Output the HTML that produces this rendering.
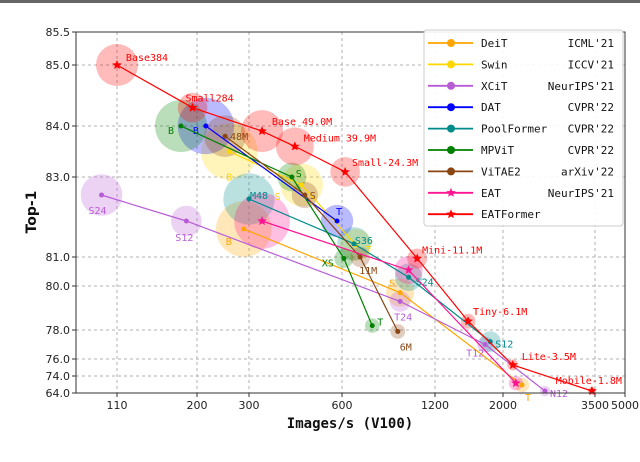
<!DOCTYPE html>
<html><head><meta charset="utf-8"><style>
body{margin:0;background:#fff;}
svg{display:block;font-family:"DejaVu Sans","Liberation Sans",sans-serif;}
.mono{font-family:"DejaVu Sans Mono","Liberation Mono",monospace;}
</style></head><body>
<svg id="chart" width="640" height="462" viewBox="0 0 640 462">
<rect x="0" y="0" width="640" height="3" fill="#666"/>
</svg>
<script>
// Axis tick arrays (non-uniform axes)
const xTickVals=[110,200,300,600,1200,2000,3500,5000];
const yTickVals=[85.5,85.0,84.0,83.0,81.0,80.0,78.0,76.0,74.0,64.0];
const xTickLabels=["110","200","300","600","1200","2000","3500","5000"];
const yTickLabels=["85.5","85.0","84.0","83.0","81.0","80.0","78.0","76.0","74.0","64.0"];
// Series data
const seriesNames=["DeiT","Swin","XCiT","DAT","PoolFormer","MPViT","ViTAE2","EAT","EATFormer"];
const seriesVenues=["ICML'21","ICCV'21","NeurIPS'21","CVPR'22","CVPR'22","CVPR'22","arXiv'22","NeurIPS'21",""];
const seriesColors=["#ffa500","#ffd700","#b85cd6","#0000ff","#008b8b","#008000","#8b4513","#ff1493","#ff0000"];
const deitX=[290,975,2310], deitY=[81.7,79.7,68.7], deitP=[86,22,5.7], deitL=["B","S","T"];
const swinX=[262,470,690], swinY=[83.5,82.8,81.3], swinP=[88,50,28], swinL=["B","S","T"];
const xcitX=[98,188,975,1790,2685], xcitY=[82.55,81.9,79.3,77.0,65.2], xcitP=[48,26,12,7,3], xcitL=["S24","S12","T24","T12","N12"];
const datX=[217,584], datY=[84.0,81.9], datP=[88,29], datL=["B","T"];
const poolX=[300,677,1030,1850], poolY=[82.45,81.33,80.3,77.2], poolP=[73,31,21,12], poolL=["M48","S36","S24","S12"];
const mpvitX=[182,438,612,795], mpvitY=[84.0,83.0,80.95,78.2], mpvitP=[75,23,10,5.8], mpvitL=["B","S","XS","T"];
const vitaeX=[254,480,717,960], vitaeY=[83.8,82.55,81.0,77.9], vitaeP=[48,19,11,6], vitaeL=["48M","S","11M","6M"];
const eatX=[342,1030,2210], eatY=[81.9,80.55,69.8], eatP=[86,22,5.7], eatL=["","",""];
const eatfX=[110,195,342,448,620,1085,1590,2160,3450], eatfY=[85.0,84.3,83.9,83.6,83.1,80.95,78.4,75.3,65.2], eatfP=[49,24.3,49,39.9,24.3,11.1,6.1,3.5,1.8];
const eatfL=["Base384","Small284","Base 49.0M","Medium 39.9M","Small-24.3M","Mini-11.1M","Tiny-6.1M","Lite-3.5M","Mobile-1.8M"];
const allX=[deitX,swinX,xcitX,datX,poolX,mpvitX,vitaeX,eatX,eatfX];
const allY=[deitY,swinY,xcitY,datY,poolY,mpvitY,vitaeY,eatY,eatfY];
const allP=[deitP,swinP,xcitP,datP,poolP,mpvitP,vitaeP,eatP,eatfP];
const allL=[deitL,swinL,xcitL,datL,poolL,mpvitL,vitaeL,eatL,eatfL];
// label offsets (style only)
const labOff=[
 [[-15,12],[-8,-10],[6,12]],
 [[0,25],[-24,11],[12,4]],
 [[-4,15],[-2,16],[3,15],[-10,8],[14,2]],
 [[-10,4],[2,-10]],
 [[10,-4],[10,-4],[16,4],[14,2]],
 [[-10,4],[7,-4],[-16,4],[8,-4]],
 [[14,0],[8,0],[8,13],[8,15]],
 [[0,0],[0,0],[0,0]],
 [[30,-8],[17,-10],[40,-10],[45,-9],[40,-10],[35,-9],[32,-10],[36,-9],[30,-11]]
];

const L=76,R=625,T=32,B=393;
const xTickPx=[117,197,249,342,435,503,595,625];
const yTickPx=[32,65,126,177,257,286,330,359,376,393];
function interp(v,vals,px,desc){
  const n=vals.length;
  for(let i=0;i<n-1;i++){
    const a=vals[i],b=vals[i+1];
    if((v>=Math.min(a,b))&&(v<=Math.max(a,b))){return px[i]+(v-a)/(b-a)*(px[i+1]-px[i]);}
  }
  if(!desc){ if(v<vals[0]) return px[0]-Math.log10(vals[0]/v)*308; return px[n-1]; }
  if(v>vals[0]) return px[0]; return px[n-1];
}
function xs(v){return interp(v,xTickVals,xTickPx,false);}
function ys(v){return interp(v,yTickVals,yTickPx,true);}
const NS="http://www.w3.org/2000/svg";
const svg=document.getElementById('chart');
function mk(tag,attrs,parent){const e=document.createElementNS(NS,tag);for(const k in attrs)e.setAttribute(k,attrs[k]);(parent||svg).appendChild(e);return e;}

const grid=mk('g',{});


xTickVals.forEach((v,i)=>{const x=xs(v);
  if(i<xTickVals.length-1) mk('line',{x1:x,x2:x,y1:T,y2:B,stroke:'#b0b0b0','stroke-dasharray':'3,3','stroke-width':1},grid);
  const t=mk('text',{x:x,y:B+16,'text-anchor':'middle','font-size':11,fill:'#222'});t.textContent=xTickLabels[i];
  
  
  mk('line',{x1:x,x2:x,y1:B,y2:B+4,stroke:'#333'});
});
yTickVals.forEach((v,i)=>{const y=ys(v);
  if(i>0&&i<yTickVals.length-1) mk('line',{x1:L,x2:R,y1:y,y2:y,stroke:'#b0b0b0','stroke-dasharray':'3,3','stroke-width':1},grid);
  const t=mk('text',{x:L-6,y:y+4,'text-anchor':'end','font-size':11,fill:'#222'});t.textContent=yTickLabels[i];
  
  
  mk('line',{x1:L-4,x2:L,y1:y,y2:y,stroke:'#333'});
});

const bub=mk('g',{});


allX.forEach((xa,s)=>{xa.forEach((xv,i)=>{
  const c=mk('circle',{cx:xs(xv),cy:ys(allY[s][i]),r:3.0*Math.sqrt(allP[s][i]),fill:seriesColors[s],'fill-opacity':0.27},bub);
  
  
});});

function star(cx,cy,r,color,parent){
  let p=[];for(let k=0;k<10;k++){const a=-Math.PI/2+k*Math.PI/5;const rr=k%2?r*0.45:r;p.push((cx+rr*Math.cos(a)).toFixed(1)+','+(cy+rr*Math.sin(a)).toFixed(1));}
  return mk('polygon',{points:p.join(' '),fill:color},parent);
}
allX.forEach((xa,s)=>{
  const g=mk('g',{});
  
  
  const pts=xa.map((xv,i)=>xs(xv).toFixed(1)+','+ys(allY[s][i]).toFixed(1)).join(' ');
  mk('polyline',{points:pts,fill:'none',stroke:seriesColors[s],'stroke-width':1.2},g);
  xa.forEach((xv,i)=>{
    const x=xs(xv),y=ys(allY[s][i]);
    let m;
    if(s>=7) m=star(x,y,5,seriesColors[s],g); else m=mk('circle',{cx:x,cy:y,r:2.5,fill:seriesColors[s]},g);
    
    
    const lab=allL[s][i];
    if(!lab) return;
    const o=labOff[s][i]||[6,-4];
    const anchor=(s===8&&i===eatfX.length-1)?'end':'middle';
    const t=mk('text',{x:x+o[0],y:y+o[1]+4,'text-anchor':anchor,'font-size':10,fill:seriesColors[s],'class':'mono'},g);
    t.textContent=lab;
    
    
  });
});

mk('rect',{x:L,y:T,width:R-L,height:B-T,fill:'none',stroke:'#333','stroke-width':1});

let t=mk('text',{x:350,y:428,'text-anchor':'middle','font-size':14,'font-weight':'bold',class:'mono',fill:'#111'});t.textContent='Images/s (V100)';


t=mk('text',{x:36,y:212,'text-anchor':'middle','font-size':14,'font-weight':'bold',fill:'#111',transform:'rotate(-90 36 212)'});t.textContent='Top-1';



const lg=mk('g',{});


mk('rect',{x:424,y:30,width:199,height:196,rx:3,fill:'#fff','fill-opacity':0.9,stroke:'#ccc'},lg);
seriesNames.forEach((n,i)=>{
  const y=43+i*21.4;
  const e=mk('g',{},lg);
  
  
  mk('line',{x1:428,x2:473,y1:y,y2:y,stroke:seriesColors[i],'stroke-width':1.8},e);
  if(i>=7) star(451,y,5,seriesColors[i],e); else mk('circle',{cx:451,cy:y,r:4,fill:seriesColors[i]},e);
  let a=mk('text',{x:481,y:y+4,'font-size':11,class:'mono',fill:'#111'},e);a.textContent=n;
  let b=mk('text',{x:614,y:y+4,'font-size':11,class:'mono','text-anchor':'end',fill:'#111'},e);b.textContent=seriesVenues[i];
});
</script>
</body></html>
